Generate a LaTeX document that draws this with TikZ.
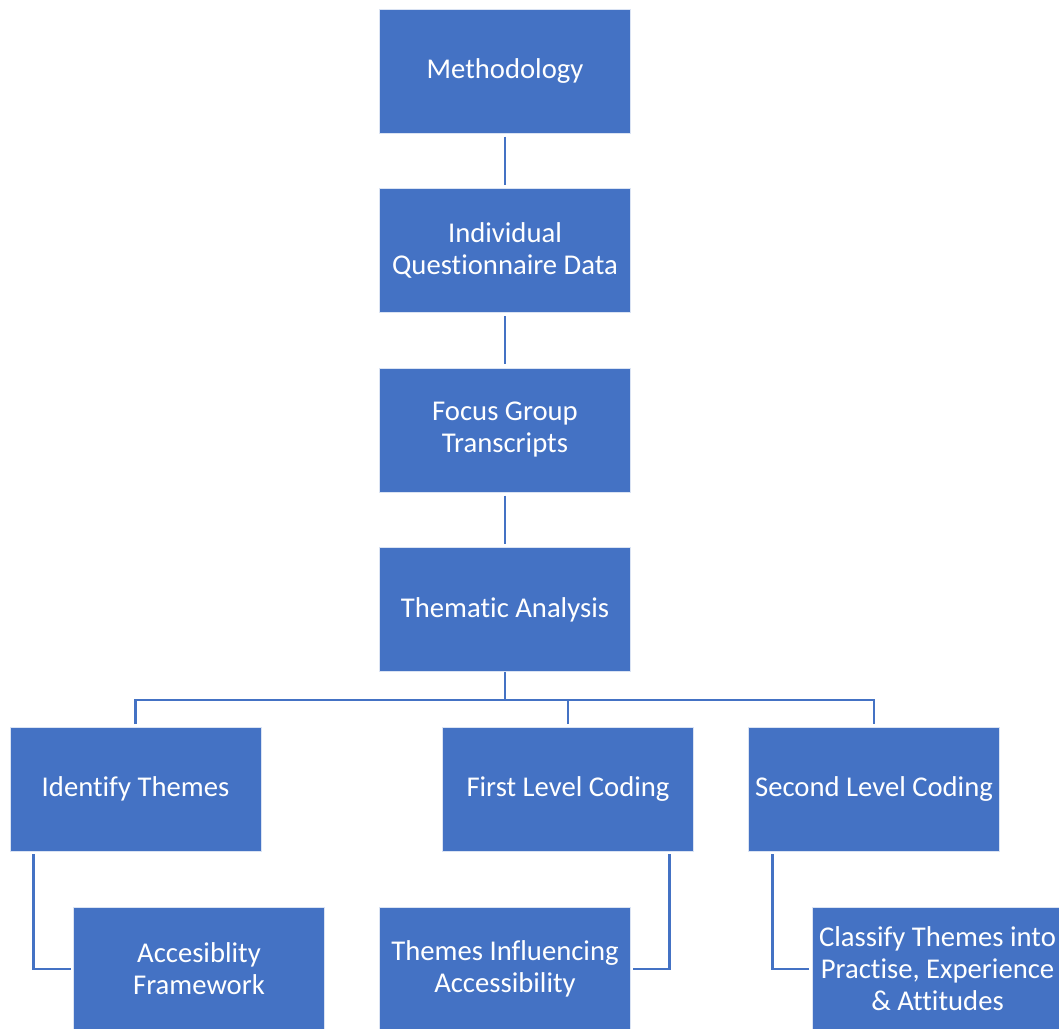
\documentclass[tikz,border=0pt]{standalone}
\usepackage{fontspec}
\setmainfont{Carlito}[Ligatures={NoCommon,NoRequired,NoContextual},Contextuals=NoAlternate]
\definecolor{boxblue}{HTML}{4472C4}
\begin{document}
\begin{tikzpicture}[x=0.75pt,y=-0.75pt,
  stepbox/.style={fill=boxblue, draw=white!80!boxblue, line width=0.5pt,
    minimum width=188pt, minimum height=93pt, inner sep=2pt,
    text=white, align=center, font=\fontsize{21.5}{24}\selectfont},
  link/.style={draw=boxblue, line width=2.2pt}]
\useasboundingbox (0,0) rectangle (1059,1028);
\clip (0,0) rectangle (1059,1028);
% main column
\node[stepbox] (meth)  at (505,71)    {Methodology};
\node[stepbox] (indiv) at (505,250.5) {Individual\\Questionnaire Data};
\node[stepbox] (focus) at (505,430)   {Focus Group\\Transcripts};
\node[stepbox] (them)  at (505,609.5) {Thematic Analysis};
% analysis branches
\node[stepbox] (ident)  at (135.5,789) {Identify Themes};
\node[stepbox] (first)  at (568,789)   {First Level Coding};
\node[stepbox] (second) at (874,789)   {Second Level Coding};
% outcomes
\node[stepbox] (acc)   at (199,969)   {Accesiblity\\Framework};
\node[stepbox] (infl)  at (505,969)   {Themes Influencing\\Accessibility};
\node[stepbox] (class) at (937.5,969) {Classify Themes into\\Practise, Experience\\\& Attitudes};
% column links
\draw[link, shorten <=2.5pt, shorten >=2.5pt] (meth.south) -- (indiv.north);
\draw[link, shorten <=2.5pt, shorten >=2.5pt] (indiv.south) -- (focus.north);
\draw[link, shorten <=2.5pt, shorten >=2.5pt] (focus.south) -- (them.north);
% branch bar
\coordinate (bar) at (505,700);
\draw[link] (them.south) -- (bar);
\draw[link, shorten <=2pt, shorten >=2pt] (ident.north) |- (bar) -| (second.north);
\draw[link, shorten <=2pt] (first.north) -- (first.north |- bar);
% outcome links
\draw[link, shorten <=2pt, shorten >=2pt] ([xshift=17.5pt]ident.south west) |- (acc.west);
\draw[link, shorten <=2pt, shorten >=2pt] ([xshift=-18pt]first.south east) |- (infl.east);
\draw[link, shorten <=2pt, shorten >=2pt] ([xshift=18pt]second.south west) |- (class.west);
\end{tikzpicture}
\end{document}
